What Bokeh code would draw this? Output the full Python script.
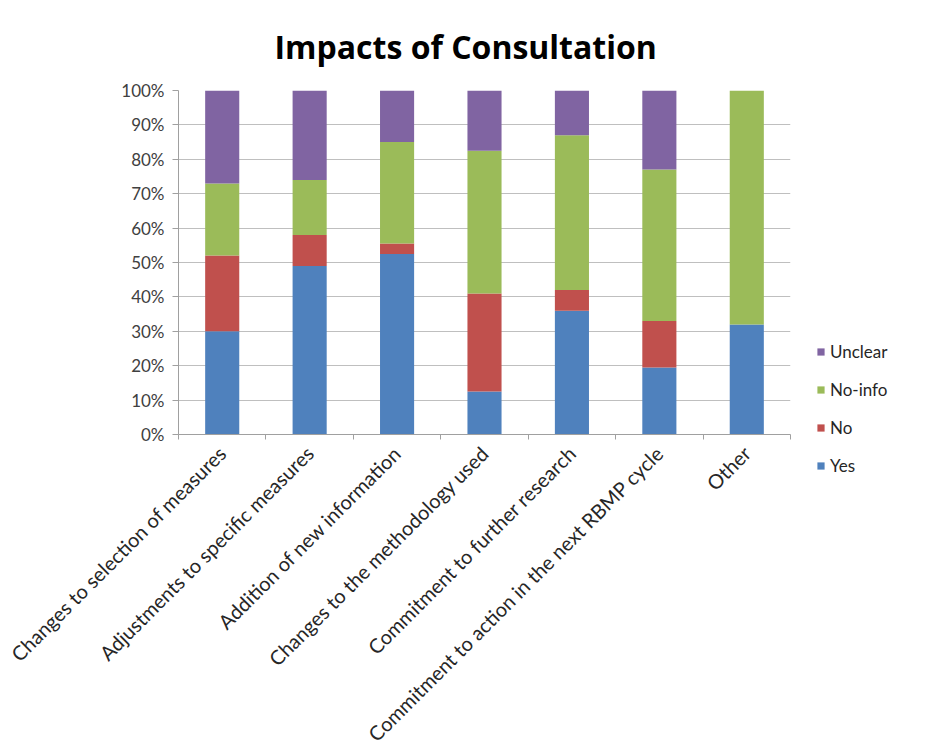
import math
from bokeh.plotting import figure
from bokeh.models import (ColumnDataSource, FixedTicker, Legend, LegendItem,
                          PrintfTickFormatter, Title)
from bokeh.embed import file_html
from bokeh.resources import INLINE

categories = [
    "Changes to selection of measures",
    "Adjustments to specific measures",
    "Addition of new information",
    "Changes to the methodology used",
    "Commitment to further research",
    "Commitment to action in the next RBMP cycle",
    "Other",
]
series = ["Yes", "No", "No-info", "Unclear"]
yes = [30, 49, 52.5, 12.5, 36, 19.5, 32]
no = [22, 9, 3, 28.5, 6, 13.5, 0]
no_info = [21, 16, 29.5, 41.5, 45, 44, 68]
unclear = [27, 26, 15, 17.5, 13, 23, 0]
y_ticks = [0, 10, 20, 30, 40, 50, 60, 70, 80, 90, 100]
colors = ["#4f81bd", "#c0504d", "#9bbb59", "#8064a2"]

xs = list(range(1, len(categories) + 1))
source = ColumnDataSource(dict(x=xs, **{"Yes": yes, "No": no, "No-info": no_info, "Unclear": unclear}))

FONT = "Lato"

p = figure(frame_width=612, frame_height=344, output_backend="svg", toolbar_location=None,
           x_range=(0.5, len(categories) + 0.5), y_range=(0, 100),
           min_border_left=178, min_border_right=123, min_border_top=90,
           min_border_bottom=303)
p.outline_line_color = None
p.background_fill_color = "white"
p.border_fill_color = "white"

renderers = p.vbar_stack(series, x="x", width=0.39, color=colors, source=source,
                         line_color=None)

# Title
p.title = Title(text="Impacts of Consultation", align="left",
                text_font="Open Sans", text_font_size="32px", text_font_style="bold",
                text_color="#000000", standoff=45, offset=96)

# Axes
xa = p.xaxis[0]
xa.ticker = FixedTicker(ticks=xs, minor_ticks=[i + 0.5 for i in range(0, len(categories) + 1)])
xa.major_label_overrides = {i + 1: c for i, c in enumerate(categories)}
xa.major_label_orientation = math.pi / 4
xa.major_tick_line_color = None
xa.minor_tick_line_color = "#a0a0a0"
xa.minor_tick_out = 5
xa.minor_tick_in = 0
xa.axis_line_color = "#a0a0a0"
xa.major_label_text_font = FONT
xa.major_label_text_font_size = "20px"
xa.major_label_text_color = "#262626"
xa.major_label_standoff = 9

ya = p.yaxis[0]
ya.ticker = FixedTicker(ticks=y_ticks)
ya.formatter = PrintfTickFormatter(format="%d%%")
ya.major_tick_line_color = "#a0a0a0"
ya.major_tick_out = 6
ya.major_tick_in = 0
ya.minor_tick_line_color = None
ya.axis_line_color = "#a0a0a0"
ya.major_label_text_font = FONT
ya.major_label_text_font_size = "17px"
ya.major_label_text_color = "#404040"
ya.major_label_standoff = 8

p.xgrid.grid_line_color = None
p.ygrid.ticker = FixedTicker(ticks=y_ticks)
p.ygrid.grid_line_color = "#bfbfbf"

# Legend (reverse order: Unclear on top)
items = [LegendItem(label=s, renderers=[r]) for s, r in zip(series, renderers)][::-1]
legend = Legend(items=items, location=(26, -42), margin=0, padding=0,
                glyph_width=9, glyph_height=9, label_standoff=5,
                label_height=20, spacing=17,
                label_text_font=FONT, label_text_font_size="17px",
                label_text_color="#262626",
                border_line_color=None, background_fill_alpha=0)
p.add_layout(legend, "right")

open("out.html", "w").write(file_html(p, INLINE))
